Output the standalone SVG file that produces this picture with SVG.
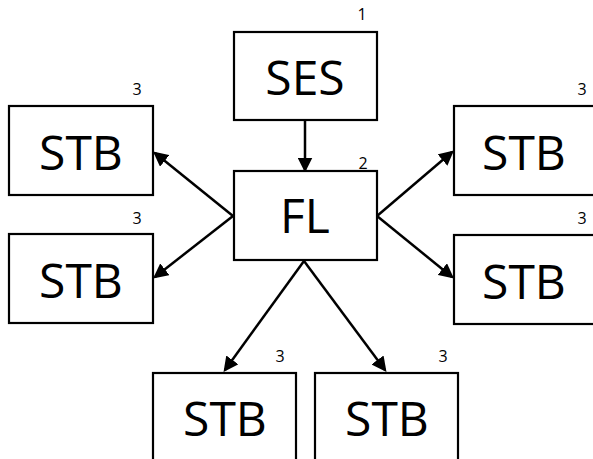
<svg xmlns="http://www.w3.org/2000/svg" width="593" height="459" viewBox="0 0 593 459">
<style>
.box{fill:#fff;stroke:#000;stroke-width:2.2}
.big{font-family:"Open Sans","DejaVu Sans",sans-serif;font-size:48px;text-anchor:middle;fill:#000}
.num{font-family:"Open Sans","DejaVu Sans",sans-serif;font-size:16px;text-anchor:middle;fill:#000}
.c{stroke:#000;stroke-width:2.5;fill:none;marker-end:url(#ah)}
</style>
<defs>
<marker id="ah" markerWidth="6" markerHeight="6" refX="5" refY="3" orient="auto" markerUnits="strokeWidth">
<path d="M0,0 L6,3 L0,6 Z" fill="#000"/>
</marker>
</defs>
<rect width="593" height="459" fill="#fff"/>
<g id="connectors">
<line class="c" x1="305" y1="121" x2="305" y2="170"/>
<line class="c" x1="233" y1="216" x2="155" y2="153"/>
<line class="c" x1="233" y1="216" x2="155" y2="277"/>
<line class="c" x1="377" y1="216" x2="452" y2="152"/>
<line class="c" x1="377" y1="216" x2="452" y2="277"/>
<line class="c" x1="304" y1="261" x2="225" y2="370"/>
<line class="c" x1="304" y1="261" x2="385" y2="370"/>
</g>
<g id="ses">
<rect class="box" x="234" y="32" width="143" height="88"/>
<text class="big" x="305" y="95">SES</text>
<text class="num" x="362" y="20">1</text>
</g>
<g id="fl">
<rect class="box" x="234" y="171" width="143" height="89"/>
<text class="big" x="305" y="233">FL</text>
<text class="num" x="363" y="169">2</text>
</g>
<g id="stb-left-top">
<rect class="box" x="9" y="106" width="144" height="89"/>
<text class="big" x="81" y="170">STB</text>
<text class="num" x="137" y="95">3</text>
</g>
<g id="stb-left-bottom">
<rect class="box" x="9" y="234" width="144" height="89"/>
<text class="big" x="81" y="298">STB</text>
<text class="num" x="137" y="224">3</text>
</g>
<g id="stb-right-top">
<rect class="box" x="454" y="106" width="144" height="89"/>
<text class="big" x="524" y="170">STB</text>
<text class="num" x="582" y="95">3</text>
</g>
<g id="stb-right-bottom">
<rect class="box" x="454" y="235" width="144" height="89"/>
<text class="big" x="524" y="299">STB</text>
<text class="num" x="582" y="224">3</text>
</g>
<g id="stb-bottom-left">
<rect class="box" x="153" y="373" width="143" height="100"/>
<text class="big" x="225" y="436">STB</text>
<text class="num" x="280" y="362">3</text>
</g>
<g id="stb-bottom-right">
<rect class="box" x="315" y="373" width="143" height="100"/>
<text class="big" x="387" y="436">STB</text>
<text class="num" x="443" y="362">3</text>
</g>
</svg>
